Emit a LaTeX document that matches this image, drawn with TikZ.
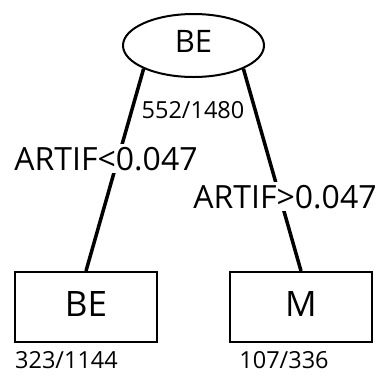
\documentclass[tikz,border=0pt]{standalone}
\usepackage{fontspec}
\setmainfont{Open Sans}
\usetikzlibrary{shapes.geometric}
\tikzset{
  rootnode/.style={ellipse, draw, line width=2pt, minimum width=141pt,
    minimum height=63pt, inner sep=0pt, text depth=8pt,
    font=\fontsize{31}{31}\selectfont},
  leafnode/.style={rectangle, draw, line width=2pt, minimum width=142pt,
    minimum height=70pt, inner sep=0pt, text depth=6pt,
    font=\fontsize{35}{35}\selectfont},
  splitlabel/.style={fill=white, inner sep=3pt, anchor=base,
    font=\fontsize{32}{32}\selectfont},
  countlabel/.style={inner sep=0pt, anchor=base,
    font=\fontsize{23.5}{23.5}\selectfont},
  branch/.style={line width=3.5pt}
}
\begin{document}
\begin{tikzpicture}[x=1pt,y=-1pt]
  \useasboundingbox (0,0) rectangle (383,376);

  \node[rootnode] (root) at (193.5,45.5) {BE};
  \node[leafnode] (lbox) at (86,307) {BE};
  \node[leafnode] (rbox) at (301,307) {M};

  % branches
  \draw[branch] (root.205) -- (lbox.north);
  \draw[branch] (root.335) -- (rbox.north);

  % split conditions
  \node[splitlabel] (lsplit) at (106,170) {ARTIF<0.047};
  \node[splitlabel] (rsplit) at (285,208) {ARTIF>0.047};

  % class counts
  \node[countlabel] (rootcount) at (193,118) {552/1480};
  \node[countlabel] (lcount) at (66.5,368) {323/1144};
  \node[countlabel] (rcount) at (284,368) {107/336};
\end{tikzpicture}
\end{document}
